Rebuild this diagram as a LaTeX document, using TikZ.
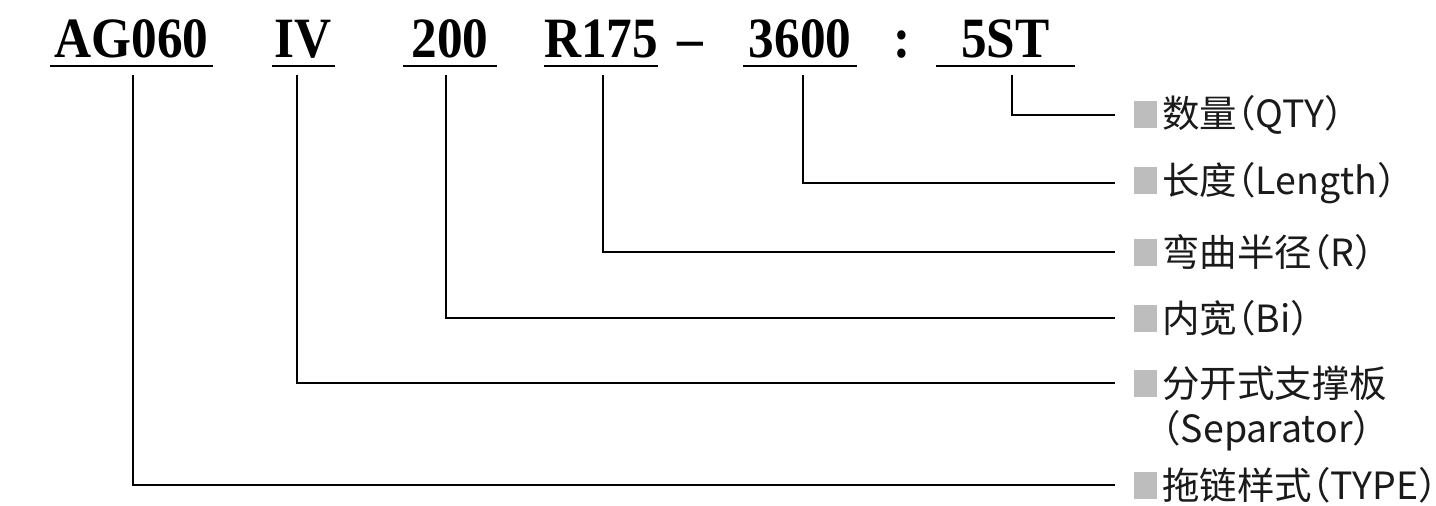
\documentclass[tikz,border=0pt]{standalone}
\usepackage{fontspec}
\usetikzlibrary{positioning}
\newfontfamily\codefont{Liberation Serif}[FakeStretch=0.9]
\newfontfamily\cjkfont{Noto Sans CJK SC}[RawFeature={+halt}]
\newcommand{\greyBox}{\textcolor{boxColour}{\rule[0pt]{23pt}{27pt}}\hspace{5pt}}

\begin{document}
\begin{tikzpicture}[x=1pt, y=-1pt,
    code/.style={font=\codefont\bfseries\fontsize{57}{57}\selectfont, inner sep=0pt, anchor=base},
    lbl/.style={font=\cjkfont\fontsize{37.5}{37.5}\selectfont, text=textColour, inner sep=0pt, anchor=west},
    uline/.style={draw=borderColour, line width=2.6pt},
    lead/.style={draw=borderColour, line width=2.4pt}]
    % Define positions
    \def\codeBase{57}
    \def\boxStart{1134}

    \definecolor{borderColour}{HTML}{000000}
    \definecolor{boxColour}{HTML}{BDBDBD}
    \definecolor{textColour}{HTML}{1A1A1A}

    % Fix the page size
    \useasboundingbox[fill=white] (0,0) rectangle (1436,506);

    % Draw the code parts
    \node[code, minimum width=163pt] (codeType) at (131.5,\codeBase) {AG060};
    \node[code, minimum width=62pt] (codeSep) at (303.5,\codeBase) {IV};
    \node[code, minimum width=94pt] (codeWidth) at (450,\codeBase) {200};
    \node[code, minimum width=113pt] (codeRadius) at (601,\codeBase) {R175};
    \node[code] (dash) at (690,\codeBase) {\textendash};
    \node[code, minimum width=114pt] (codeLength) at (800,\codeBase) {3600};
    \node[code] (colon) at (902,\codeBase) {:};
    \node[code, minimum width=139pt] (codeQty) at (1005.5,\codeBase) {5ST};

    % Underline the code parts
    \foreach \part in {Type, Sep, Width, Radius, Length, Qty}
        \draw[uline] ([yshift=-9pt]code\part.base west) -- ([yshift=-9pt]code\part.base east);

    % Draw the labels
    \node[lbl] (lblQty) at (\boxStart,115) {\greyBox 数量（QTY）};
    \node[lbl] (lblLength) at (\boxStart,183) {\greyBox 长度（Length）};
    \node[lbl] (lblRadius) at (\boxStart,252) {\greyBox 弯曲半径（R）};
    \node[lbl] (lblWidth) at (\boxStart,318) {\greyBox 内宽（Bi）};
    \node[lbl] (lblSep) at (\boxStart,383) {\greyBox 分开式支撑板};
    \node[lbl, below right=10pt and 28pt of lblSep.south west] (lblSepEn) {（Separator）};
    \node[lbl] (lblType) at (\boxStart,485) {\greyBox 拖链样式（TYPE）};

    % Draw the leaders (with a small offset from the underline centre)
    \foreach \part/\dx in {Qty/6.5, Length/3, Radius/2, Width/-4, Sep/-6.5, Type/1.5}
        \draw[lead] ([xshift=\dx pt, yshift=-18pt]code\part.base) |- ([xshift=-19pt]lbl\part.west);

\end{tikzpicture}
\end{document}
